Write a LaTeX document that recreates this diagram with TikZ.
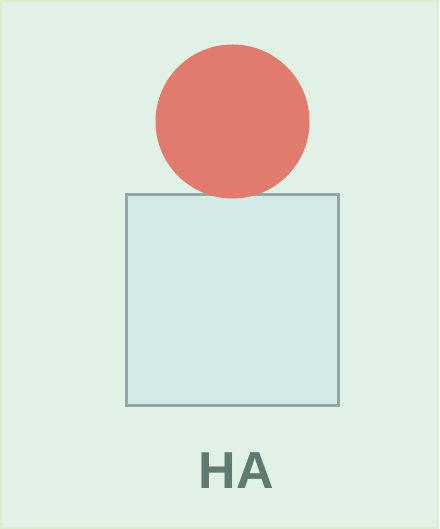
\documentclass[tikz,border=0pt]{standalone}
\usepackage{fontspec}
\setsansfont{Liberation Sans}
\usepackage{tikz}
\usetikzlibrary{positioning}

\definecolor{bgmint}{HTML}{E1F1E5}
\definecolor{bgedge}{HTML}{DCEDCD}
\definecolor{headred}{HTML}{E07B6E}
\definecolor{bodyfill}{HTML}{D5EAE6}
\definecolor{bodyline}{HTML}{8FA8A4}
\definecolor{labelgray}{HTML}{5F7A6E}

\begin{document}
\begin{tikzpicture}[x=1pt, y=1pt,
        every node/.style={font=\sffamily},
        body/.style={rectangle, draw=bodyline, line width=3.5pt, fill=bodyfill, minimum width=212pt, minimum height=211pt, inner sep=0pt, outer sep=0pt},
        head/.style={circle, fill=headred, minimum size=154pt, inner sep=0pt, outer sep=0pt},
        tag/.style={text=labelgray, font=\sffamily\bfseries\fontsize{52}{52}\selectfont, inner sep=0pt, text depth=0pt}
    ]
%
    \useasboundingbox (0,0) rectangle (439,529);
    \fill[bgmint] (0,0) rectangle (439,529);
    \draw[bgedge, line width=2pt] (1,1) rectangle (438,528);
%
    \node[body] (body) at (232.5,229) {};
    \node[head, above=-4pt of body] (head) {};
    \node[tag, below=47pt of body, xshift=4pt] (label) {HA};
%
\end{tikzpicture}
\end{document}
